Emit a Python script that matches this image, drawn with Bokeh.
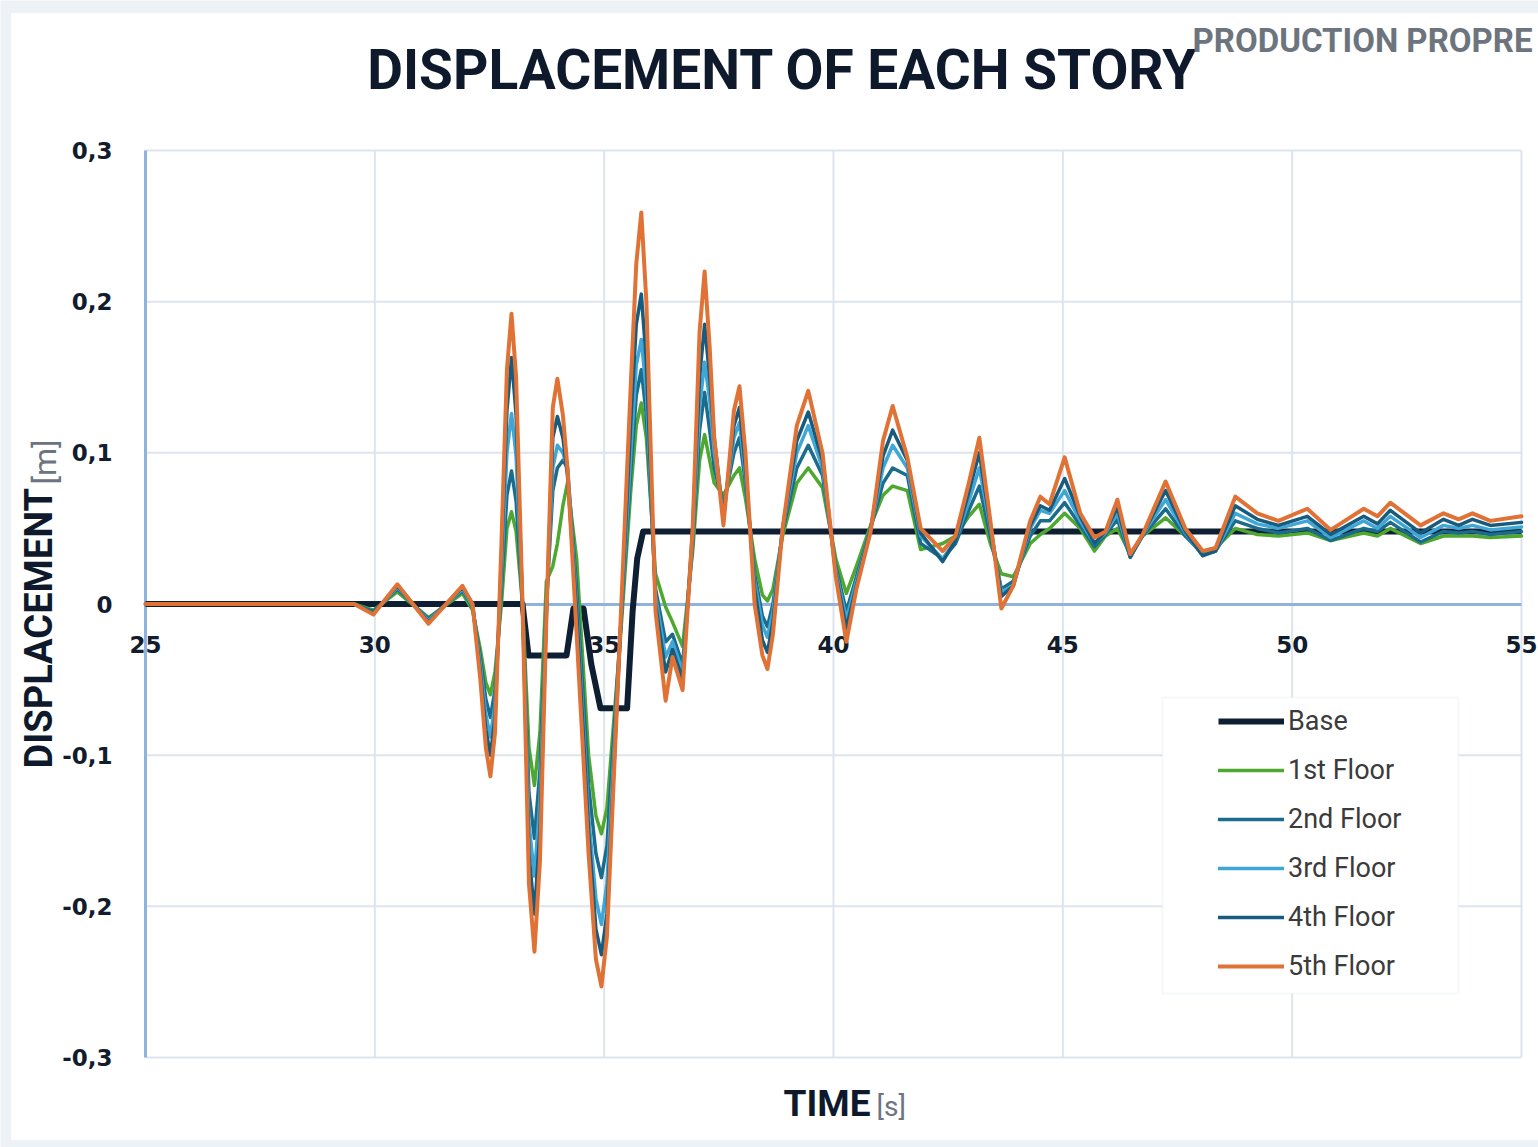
from bokeh.plotting import figure
from bokeh.models import (Range1d, FixedTicker, CustomJSTickFormatter, Label, Legend,
                          LegendItem, BoxAnnotation)
from bokeh.embed import file_html
from bokeh.resources import INLINE

# ---------------- data ----------------
time_s = [25.0, 29.0, 29.55, 29.97, 30.49, 31.17, 31.91, 32.13, 32.30, 32.42,
          32.52, 32.62, 32.76, 32.88, 32.98, 33.08, 33.22, 33.36, 33.48, 33.60,
          33.74, 33.88, 33.98, 34.10, 34.20, 34.40, 34.66, 34.82, 34.94, 35.06,
          35.36, 35.58, 35.70, 35.81, 35.92, 36.12, 36.34, 36.49, 36.71, 36.93,
          37.08, 37.19, 37.30, 37.40, 37.60, 37.83, 37.95, 38.08, 38.28, 38.45,
          38.56, 38.68, 38.89, 39.20, 39.45, 39.76, 40.05, 40.28, 40.50, 40.81,
          41.08, 41.29, 41.61, 41.90, 42.38, 42.66, 42.95, 43.18, 43.42, 43.66,
          43.92, 44.29, 44.51, 44.71, 45.04, 45.38, 45.69, 45.93, 46.19, 46.47,
          46.74, 47.24, 47.67, 48.05, 48.33, 48.76, 49.24, 49.70, 50.33, 50.84,
          51.56, 51.86, 52.14, 52.80, 53.30, 53.63, 53.93, 54.32, 55.0]

floor1 = [0, 0, 0, -0.004, 0.008, -0.009, 0.007, -0.004, -0.030, -0.052,
          -0.060, -0.045, 0.0, 0.050, 0.061, 0.048, 0.0, -0.095, -0.120, -0.085,
          0.015, 0.025, 0.040, 0.065, 0.080, 0.030, -0.100, -0.140, -0.152, -0.135,
          -0.020, 0.075, 0.118, 0.133, 0.110, 0.020, -0.002, -0.012, -0.028, 0.035,
          0.095, 0.112, 0.095, 0.080, 0.072, 0.085, 0.090, 0.070, 0.030, 0.006,
          0.002, 0.010, 0.045, 0.080, 0.090, 0.077, 0.030, 0.007, 0.025, 0.052,
          0.072, 0.078, 0.075, 0.036, 0.040, 0.045, 0.058, 0.066, 0.040, 0.020,
          0.018, 0.040, 0.046, 0.050, 0.060, 0.050, 0.035, 0.045, 0.050, 0.033,
          0.045, 0.057, 0.045, 0.035, 0.037, 0.050, 0.046, 0.045, 0.047, 0.042,
          0.047, 0.045, 0.050, 0.040, 0.045, 0.045, 0.045, 0.044, 0.045]

floor2 = [0, 0, 0, -0.005, 0.010, -0.010, 0.009, -0.002, -0.035, -0.063,
          -0.075, -0.057, 0.010, 0.072, 0.088, 0.068, 0.0, -0.125, -0.155, -0.110,
          0.0, 0.075, 0.090, 0.095, 0.090, 0.010, -0.120, -0.165, -0.181, -0.160,
          -0.015, 0.088, 0.138, 0.155, 0.125, 0.010, -0.025, -0.020, -0.040, 0.040,
          0.115, 0.140, 0.115, 0.090, 0.065, 0.100, 0.110, 0.080, 0.020, -0.008,
          -0.015, 0.000, 0.048, 0.090, 0.105, 0.085, 0.025, -0.005, 0.018, 0.050,
          0.080, 0.090, 0.085, 0.040, 0.030, 0.040, 0.062, 0.078, 0.045, 0.010,
          0.015, 0.045, 0.055, 0.055, 0.067, 0.052, 0.038, 0.046, 0.056, 0.031,
          0.045, 0.063, 0.045, 0.033, 0.035, 0.055, 0.050, 0.047, 0.050, 0.042,
          0.050, 0.048, 0.054, 0.041, 0.048, 0.047, 0.048, 0.046, 0.048]

floor3 = [0, 0, 0, -0.006, 0.011, -0.011, 0.010, -0.001, -0.040, -0.073,
          -0.088, -0.066, 0.020, 0.100, 0.126, 0.098, 0.0, -0.145, -0.180, -0.130,
          -0.005, 0.090, 0.105, 0.100, 0.090, 0.0, -0.140, -0.195, -0.212, -0.185,
          -0.015, 0.100, 0.158, 0.175, 0.140, 0.005, -0.035, -0.025, -0.045, 0.045,
          0.130, 0.160, 0.135, 0.100, 0.060, 0.110, 0.120, 0.085, 0.015, -0.014,
          -0.022, -0.005, 0.050, 0.100, 0.118, 0.090, 0.022, -0.010, 0.015, 0.050,
          0.090, 0.105, 0.090, 0.045, 0.030, 0.042, 0.068, 0.090, 0.050, 0.008,
          0.012, 0.050, 0.062, 0.060, 0.075, 0.055, 0.040, 0.047, 0.060, 0.031,
          0.046, 0.069, 0.047, 0.032, 0.035, 0.060, 0.053, 0.050, 0.055, 0.044,
          0.055, 0.050, 0.058, 0.044, 0.052, 0.050, 0.052, 0.049, 0.051]

floor4 = [0, 0, 0, -0.006, 0.012, -0.012, 0.011, 0.0, -0.045, -0.083,
          -0.100, -0.075, 0.030, 0.128, 0.163, 0.125, 0.0, -0.165, -0.205, -0.150,
          -0.008, 0.110, 0.124, 0.110, 0.085, -0.005, -0.150, -0.215, -0.232, -0.205,
          -0.015, 0.120, 0.185, 0.205, 0.160, 0.0, -0.045, -0.030, -0.050, 0.050,
          0.150, 0.185, 0.150, 0.110, 0.057, 0.118, 0.130, 0.090, 0.010, -0.024,
          -0.032, -0.012, 0.050, 0.108, 0.127, 0.095, 0.020, -0.016, 0.012, 0.050,
          0.098, 0.115, 0.095, 0.047, 0.028, 0.042, 0.074, 0.100, 0.052, 0.005,
          0.012, 0.052, 0.065, 0.062, 0.083, 0.058, 0.040, 0.048, 0.064, 0.031,
          0.046, 0.075, 0.048, 0.032, 0.035, 0.065, 0.056, 0.052, 0.058, 0.046,
          0.058, 0.053, 0.062, 0.047, 0.056, 0.052, 0.056, 0.052, 0.054]

floor5 = [0, 0, 0, -0.007, 0.013, -0.013, 0.012, 0.0, -0.050, -0.095,
          -0.114, -0.085, 0.040, 0.155, 0.192, 0.150, 0.0, -0.185, -0.230, -0.170,
          -0.010, 0.130, 0.149, 0.125, 0.090, -0.020, -0.165, -0.235, -0.253, -0.220,
          -0.010, 0.145, 0.225, 0.259, 0.200, -0.005, -0.064, -0.035, -0.057, 0.050,
          0.180, 0.220, 0.170, 0.110, 0.052, 0.128, 0.144, 0.100, 0.0, -0.034,
          -0.043, -0.020, 0.050, 0.118, 0.141, 0.100, 0.018, -0.025, 0.010, 0.048,
          0.108, 0.131, 0.097, 0.050, 0.035, 0.045, 0.080, 0.110, 0.055, -0.003,
          0.012, 0.055, 0.071, 0.066, 0.097, 0.060, 0.044, 0.048, 0.069, 0.033,
          0.046, 0.081, 0.050, 0.035, 0.037, 0.071, 0.060, 0.055, 0.063, 0.049,
          0.063, 0.058, 0.067, 0.052, 0.060, 0.056, 0.060, 0.055, 0.058]

base_time = [25.0, 33.22, 33.35, 34.18, 34.33, 34.55, 34.72, 34.92, 35.50,
             35.62, 35.72, 35.85, 55.0]
base_disp = [0.0, 0.0, -0.034, -0.034, -0.003, -0.003, -0.04, -0.069, -0.069,
             -0.005, 0.03, 0.048, 0.048]

for _s in (floor1, floor2, floor3, floor4, floor5):
    assert len(_s) == len(time_s)

x_ticks = [25, 30, 35, 40, 45, 50, 55]
y_ticks = [-0.3, -0.2, -0.1, 0.0, 0.1, 0.2, 0.3]
series_names = ["Base", "1st Floor", "2nd Floor", "3rd Floor", "4th Floor", "5th Floor"]

title_text = "DISPLACEMENT OF EACH STORY"
corner_text = "PRODUCTION PROPRE"

# ---------------- layout: the whole canvas is the frame ----------------
W, H = 1538, 1147
PLOT_L, PLOT_R, PLOT_T, PLOT_B = 145, 1521, 150, 1057   # pixel box of the chart area
XMIN, XMAX = x_ticks[0], x_ticks[-1]
YMIN, YMAX = y_ticks[0], y_ticks[-1]
SX = (PLOT_R - PLOT_L) / (XMAX - XMIN)
SY = (PLOT_B - PLOT_T) / (YMAX - YMIN)


def tx(px):
    return XMIN + (px - PLOT_L) / SX


def vy(py):
    return YMAX - (py - PLOT_T) / SY


colors = ["#0e1f33", "#4ea72e", "#1a6b8c", "#3fa6d6", "#175c7e", "#e07236"]
widths = [6, 3.5, 3.5, 3.5, 3.5, 4]
axis_blue = "#8fb3de"
grid_col = "#dde4ee"
dark = "#111c2c"

p = figure(width=W, height=H, x_range=Range1d(tx(0), tx(W)), y_range=Range1d(vy(H), vy(0)),
           output_backend="svg", toolbar_location=None,
           min_border_left=0, min_border_right=0, min_border_top=0, min_border_bottom=0)
p.background_fill_color = "#edf2f7"
p.border_fill_color = "#edf2f7"
p.outline_line_color = None
p.xgrid.visible = False
p.ygrid.visible = False

# white card
card = BoxAnnotation(left=tx(10), right=tx(W + 20), top=vy(12), bottom=vy(1140),
                     fill_color="white", fill_alpha=1.0, line_color="#e2e9f0",
                     line_width=2, level="image")
p.add_layout(card)

# grid lines at the tick values
p.segment(x0=x_ticks, y0=[YMIN] * len(x_ticks), x1=x_ticks, y1=[YMAX] * len(x_ticks),
          line_color=grid_col, line_width=2, level="underlay")
p.segment(x0=[XMIN] * len(y_ticks), y0=y_ticks, x1=[XMAX] * len(y_ticks), y1=y_ticks,
          line_color=grid_col, line_width=2, level="underlay")

# axes fixed at x=25 and y=0
xa = p.xaxis[0]
ya = p.yaxis[0]
xa.fixed_location = 0
ya.fixed_location = XMIN
xa.bounds = (XMIN, XMAX)
ya.bounds = (YMIN, YMAX)
xa.ticker = FixedTicker(ticks=x_ticks)
ya.ticker = FixedTicker(ticks=y_ticks)
ya.formatter = CustomJSTickFormatter(code="""
    if (Math.abs(tick) < 1e-9) { return "0"; }
    return tick.toFixed(1).replace(".", ",");
""")
xa.formatter = CustomJSTickFormatter(code="return tick.toFixed(0);")
for ax in (xa, ya):
    ax.level = "underlay"
    ax.axis_line_color = axis_blue
    ax.axis_line_width = 3
    ax.major_tick_line_color = None
    ax.minor_tick_line_color = None
    ax.major_label_text_font = "DejaVu Sans"
    ax.major_label_text_font_style = "bold"
    ax.major_label_text_font_size = "23px"
    ax.major_label_text_color = dark
ya.major_label_standoff = 27
xa.major_label_standoff = 26

# series
renderers = []
r = p.line(base_time, base_disp, line_color=colors[0], line_width=widths[0], line_join="round")
renderers.append(r)
for vals, c, w in zip([floor1, floor2, floor3, floor4, floor5], colors[1:], widths[1:]):
    r = p.line(time_s, vals, line_color=c, line_width=w, line_join="round", line_cap="round")
    renderers.append(r)

# legend box + legend
box = BoxAnnotation(left=tx(1162), right=tx(1458), top=vy(697), bottom=vy(993),
                    fill_color="white", fill_alpha=1.0, line_color="#dfe8ee", line_width=2)
p.add_layout(box)
legend = Legend(items=[LegendItem(label=n, renderers=[rr]) for n, rr in zip(series_names, renderers)],
                location=(1218, H - 982), orientation="vertical", glyph_width=66, glyph_height=32,
                label_height=32, spacing=17, padding=0, margin=0, label_standoff=4,
                label_text_font="Roboto", label_text_font_size="27px",
                label_text_color="#3b3b3b", border_line_color=None, background_fill_alpha=0)
p.add_layout(legend)

# texts (anchored at their vertical middle)
p.add_layout(Label(x=tx(782), y=vy(69), text=title_text, text_align="center",
                   text_baseline="middle", text_font="Roboto",
                   text_font_style="bold", text_font_size="55px", text_color="#0e1a2b"))
p.add_layout(Label(x=tx(1532), y=vy(40), text=corner_text, text_align="right",
                   text_baseline="middle", text_font="Roboto",
                   text_font_style="bold", text_font_size="33px", text_color="#6c757d"))
p.add_layout(Label(x=tx(38), y=vy(768), text="DISPLACEMENT", angle=90, angle_units="deg",
                   text_align="left", text_baseline="middle", text_font="Roboto",
                   text_font_style="bold", text_font_size="38px", text_color="#0e1a2b"))
p.add_layout(Label(x=tx(44), y=vy(484), text="[m]", angle=90, angle_units="deg",
                   text_align="left", text_baseline="middle", text_font="Roboto",
                   text_font_size="32px", text_color="#6b7480"))
p.add_layout(Label(x=tx(783), y=vy(1103), text="TIME", text_align="left",
                   text_baseline="middle", text_font="Roboto",
                   text_font_style="bold", text_font_size="37px", text_color="#0e1a2b"))
p.add_layout(Label(x=tx(876), y=vy(1106), text="[s]", text_align="left",
                   text_baseline="middle", text_font="Roboto",
                   text_font_size="28px", text_color="#6b7480"))

open("out.html", "w").write(file_html(p, INLINE))
